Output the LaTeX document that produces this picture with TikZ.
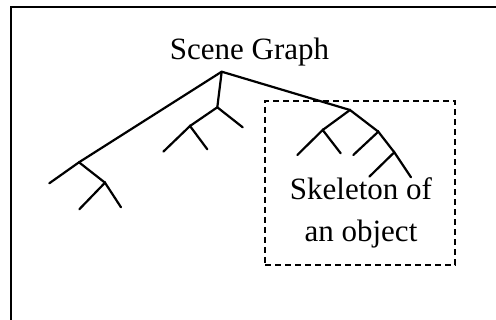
\documentclass[tikz,border=0pt]{standalone}
\usepackage{fontspec}
\setmainfont{Liberation Serif}

\begin{document}
\begin{tikzpicture}[x=1pt, y=-1pt,
    frame/.style={draw, line width=2.2pt},
    branch/.style={line width=2.2pt, line cap=round},
    caption/.style={font=\fontsize{31}{42}\selectfont, inner sep=0pt,
        align=center},
    group/.style={draw, dash pattern=on 6pt off 4pt, line width=2pt}
]
    \clip (0,0) rectangle (496,320);
    \draw[frame] (11,7) rectangle (510,330);

    \node[caption, anchor=base] (title) at (249.5,59.3) {Scene Graph};

    % tree points
    \coordinate (root) at (221.7,71.7);
    \coordinate (a) at (79,162.3);
    \coordinate (a1) at (49.3,183.3);
    \coordinate (a2) at (105,182.7);
    \coordinate (a21) at (79.3,209.3);
    \coordinate (a22) at (121,207.3);
    \coordinate (b) at (217.3,107.3);
    \coordinate (b1) at (190,126);
    \coordinate (b2) at (242.7,127.3);
    \coordinate (b11) at (163.3,151.7);
    \coordinate (b12) at (207.3,149.3);
    \coordinate (c) at (350,110);
    \coordinate (c1) at (322.7,130);
    \coordinate (c2) at (378.3,131.7);
    \coordinate (c11) at (297.3,155);
    \coordinate (c12) at (340.7,153.3);
    \coordinate (c21) at (353.3,155);
    \coordinate (c22) at (394.3,152.3);
    \coordinate (c221) at (369.3,176.7);
    \coordinate (c222) at (411,177.3);

    \draw[branch] (root) -- (a);
    \draw[branch] (a1) -- (a) -- (a2);
    \draw[branch] (a21) -- (a2) -- (a22);

    \draw[branch] (root) -- (b);
    \draw[branch] (b1) -- (b) -- (b2);
    \draw[branch] (b11) -- (b1) -- (b12);

    \draw[branch] (root) -- (c);
    \draw[branch] (c1) -- (c) -- (c2);
    \draw[branch] (c11) -- (c1) -- (c12);
    \draw[branch] (c21) -- (c2) -- (c22);
    \draw[branch] (c221) -- (c22) -- (c222);

    \node[group, minimum width=190pt, minimum height=164pt, inner sep=0pt]
        (skeleton) at (360,183) {};
    \node[caption] (skeletontext) at (361,213.1) {Skeleton of\\an object};
\end{tikzpicture}
\end{document}
